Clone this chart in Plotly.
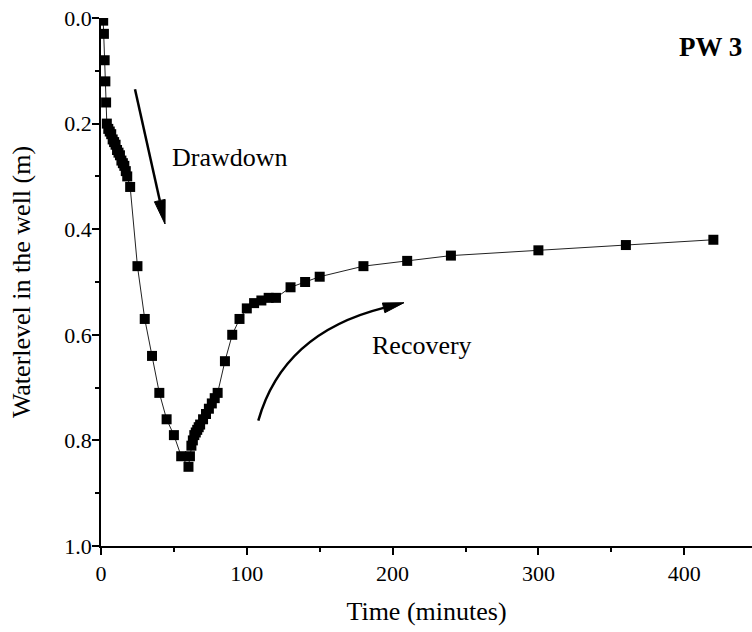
import math
import plotly.graph_objects as go

# ---- data ----
time_min = [1.5, 2, 2.5, 3, 3.5,
            4, 5, 6, 7, 8, 9, 10, 11, 12, 13, 14, 15, 16, 17, 18, 20,
            25, 30, 35, 40, 45, 50, 55,
            60, 61, 62, 63, 64, 65, 66, 67, 68, 70, 72, 74, 76, 78, 80,
            85, 90, 95, 100, 105, 110, 115, 120, 130, 140, 150, 180, 210, 240, 300, 360, 420]
water_level = [0.005, 0.03, 0.08, 0.12, 0.16,
               0.20, 0.21, 0.215, 0.22, 0.23, 0.235, 0.24, 0.25, 0.255, 0.26, 0.27, 0.275, 0.28, 0.29, 0.30, 0.32,
               0.47, 0.57, 0.64, 0.71, 0.76, 0.79, 0.83,
               0.85, 0.83, 0.81, 0.80, 0.79, 0.785, 0.78, 0.775, 0.77, 0.76, 0.75, 0.74, 0.73, 0.72, 0.71,
               0.65, 0.60, 0.57, 0.55, 0.54, 0.535, 0.53, 0.53, 0.51, 0.50, 0.49, 0.47, 0.46, 0.45, 0.44, 0.43, 0.42]
x_ticks = [0, 100, 200, 300, 400]
y_ticks = [0.0, 0.2, 0.4, 0.6, 0.8, 1.0]
y_tick_labels = ["0.0", "0.2", "0.4", "0.6", "0.8", "1.0"]

# ---- layout constants ----
W, H = 752, 632
L, R, T, B = 101, 0, 18, 86
XMAX = 446.5
FONT = "Liberation Serif, Times New Roman, serif"


def px2x(px):
    return (px - L) / (W - L - R) * XMAX


def px2y(py):
    return (py - T) / (H - T - B)


def head_path(tip, frm, length, half):
    dx, dy = tip[0] - frm[0], tip[1] - frm[1]
    n = math.hypot(dx, dy)
    ux, uy = dx / n, dy / n
    bx, by = tip[0] - length * ux, tip[1] - length * uy
    p1 = (bx - half * uy, by + half * ux)
    p2 = (bx + half * uy, by - half * ux)
    pts = [tip, p1, p2]
    d = "M {},{} L {},{} L {},{} Z".format(*[v for p in pts for v in (px2x(p[0]), px2y(p[1]))])
    return d, (bx, by)


fig = go.Figure()
fig.add_trace(go.Scatter(
    x=time_min, y=water_level, mode="lines+markers",
    line=dict(color="#222222", width=1),
    marker=dict(symbol="square", size=10, color="black", line=dict(width=0)),
    showlegend=False,
))

shapes = []
# straight drawdown arrow
tail1, tip1 = (135, 89.3), (165, 224)
hp1, base1 = head_path(tip1, tail1, 24, 5.5)
shapes.append(dict(type="line", xref="x", yref="y",
                   x0=px2x(tail1[0]), y0=px2y(tail1[1]), x1=px2x(base1[0]), y1=px2y(base1[1]),
                   line=dict(color="black", width=2.5)))
shapes.append(dict(type="path", xref="x", yref="y", path=hp1,
                   fillcolor="black", line=dict(color="black", width=1)))
# curved recovery arrow
p0, ctrl, tip2 = (258.3, 420.7), (282.8, 333.3), (404, 302.7)
hp2, base2 = head_path(tip2, (383, 308), 21, 5)
curve = "M {},{} Q {},{} {},{}".format(px2x(p0[0]), px2y(p0[1]), px2x(ctrl[0]), px2y(ctrl[1]),
                                       px2x(base2[0]), px2y(base2[1]))
shapes.append(dict(type="path", xref="x", yref="y", path=curve,
                   line=dict(color="black", width=2.5)))
shapes.append(dict(type="path", xref="x", yref="y", path=hp2,
                   fillcolor="black", line=dict(color="black", width=1)))

annotations = [
    dict(text="Drawdown", x=px2x(170), y=px2y(157), xref="x", yref="y",
         xanchor="left", yanchor="middle", showarrow=False,
         font=dict(family=FONT, size=26, color="black")),
    dict(text="Recovery", x=px2x(370), y=px2y(345), xref="x", yref="y",
         xanchor="left", yanchor="middle", showarrow=False,
         font=dict(family=FONT, size=26, color="black")),
    dict(text="<b>PW 3</b>", x=px2x(710), y=px2y(47), xref="x", yref="y",
         xanchor="center", yanchor="middle", showarrow=False,
         font=dict(family=FONT, size=27, color="black")),
]

axis_common = dict(showline=True, linecolor="black", linewidth=1.5, mirror=False,
                   ticks="outside", ticklen=7, tickwidth=1.5, tickcolor="black",
                   showgrid=False, zeroline=False,
                   tickfont=dict(family=FONT, size=22, color="black"))

fig.update_layout(
    width=W, height=H,
    margin=dict(l=L, r=R, t=T, b=B, pad=0),
    paper_bgcolor="white", plot_bgcolor="white",
    font=dict(family=FONT, color="black"),
    shapes=shapes, annotations=annotations,
    xaxis=dict(range=[0, XMAX], tickvals=x_ticks,
               minor=dict(dtick=50, tick0=0, ticks="outside", ticklen=4, tickwidth=1.5, tickcolor="black"),
               title=dict(text="Time (minutes)", font=dict(family=FONT, size=26), standoff=17),
               **axis_common),
    yaxis=dict(range=[1.0, 0.0], tickvals=y_ticks, ticktext=y_tick_labels,
               ticklabelstandoff=-4,
               minor=dict(dtick=0.1, tick0=0, ticks="outside", ticklen=4, tickwidth=1.5, tickcolor="black"),
               title=dict(text="Waterlevel in the well (m)", font=dict(family=FONT, size=26), standoff=26),
               **axis_common),
)

fig.write_html("out.html")
